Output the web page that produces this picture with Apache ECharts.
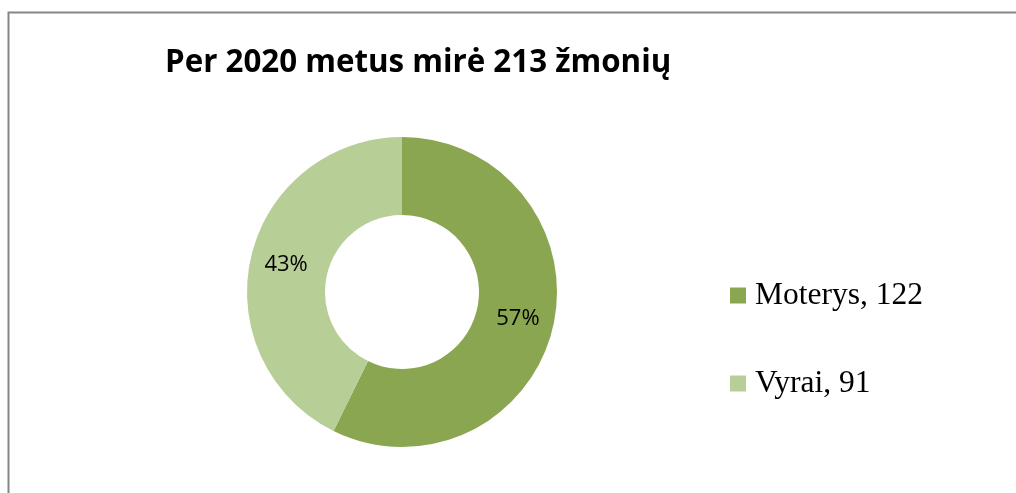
<!DOCTYPE html>
<html>
<head>
<meta charset="utf-8">
<script src="https://cdn.jsdelivr.net/npm/echarts@6/dist/echarts.min.js"></script>
<style>
html,body{margin:0;padding:0;background:#fff;}
#chart{width:1016px;height:493px;}
</style>
</head>
<body>
<div id="chart"></div>
<script>
const titleText = 'Per 2020 metus mirė 213 žmonių';
const categories = ['Moterys', 'Vyrai'];
const values = [122, 91];
const colors = ['#8AA650', '#B8CE97'];

const chart = echarts.init(document.getElementById('chart'));
const data = categories.map((c, i) => ({ name: c, value: values[i], itemStyle: { color: colors[i] } }));
const valueOf = {};
categories.forEach((c, i) => valueOf[c] = values[i]);

chart.setOption({
  backgroundColor: '#ffffff',
  animation: false,
  graphic: [{
    type: 'rect',
    shape: { x: 8.5, y: 12.5, width: 1020, height: 500 },
    style: { fill: 'none', stroke: '#868686', lineWidth: 2 },
    silent: true
  }],
  title: {
    text: titleText,
    left: 160,
    top: 43,
    textStyle: { fontFamily: 'Open Sans', fontWeight: 'bold', fontSize: 31.3, color: '#000' }
  },
  legend: {
    orient: 'vertical',
    left: 730,
    top: 277,
    padding: 0,
    itemWidth: 16,
    itemHeight: 16,
    itemGap: 51,
    icon: 'rect',
    data: categories,
    formatter: n => n + ', ' + valueOf[n],
    textStyle: { fontFamily: 'Liberation Serif', fontSize: 31.5, lineHeight: 32, color: '#000', padding: [5, 0, 0, 4] }
  },
  series: [{
    type: 'pie',
    center: [402, 292],
    radius: [77, 155],
    startAngle: 90,
    clockwise: true,
    data: data,
    label: {
      position: 'inside',
      formatter: p => Math.round(p.percent) + '%',
      fontFamily: 'Open Sans',
      fontSize: 22,
      color: '#000'
    },
    labelLine: { show: false },
    emphasis: { disabled: true },
    itemStyle: { borderWidth: 0 }
  }]
});
</script>
</body>
</html>
